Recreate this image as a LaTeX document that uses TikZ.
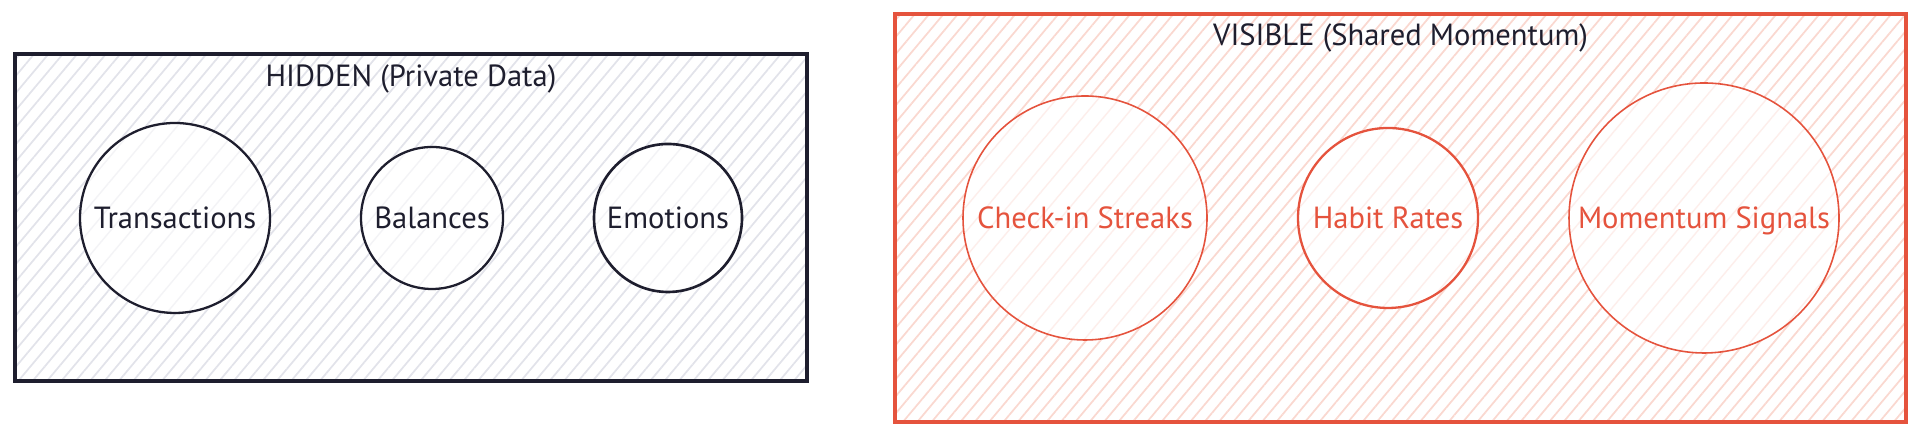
\documentclass[tikz,border=0pt]{standalone}
\usepackage{fontspec}
\setmainfont{PT Sans}
\usepackage{tikz}
\usetikzlibrary{positioning}
\usetikzlibrary{patterns.meta}
\usepackage{xcolor}
\definecolor{inkdark}{HTML}{1E1E2E}
\definecolor{inkred}{HTML}{E5533D}
\definecolor{hatchgray}{HTML}{E2E3EA}
\definecolor{hatchpink}{HTML}{FAD8D0}
\definecolor{faintgray}{HTML}{F3F3F6}
\definecolor{faintpink}{HTML}{FDEEEB}

\begin{document}
\begin{tikzpicture}[
hiddenbox/.style={rectangle, draw=inkdark, line width=1pt, inner sep=0pt, pattern={Lines[angle=50,distance=1.1mm,line width=0.5pt]}, pattern color=hatchgray},
visiblebox/.style={rectangle, draw=inkred, line width=1.05pt, inner sep=0pt, pattern={Lines[angle=50,distance=1.1mm,line width=0.5pt]}, pattern color=hatchpink},
hiddennode/.style={circle, draw=inkdark, line width=0.65pt, inner sep=0pt, text=inkdark, font=\fontsize{8.7}{10.4}\selectfont, text height=6.1pt, text depth=0pt, preaction={fill=white}, pattern={Lines[angle=50,distance=1.6mm,line width=0.4pt]}, pattern color=faintgray},
visiblenode/.style={circle, draw=inkred, line width=0.45pt, inner sep=0pt, text=inkred, font=\fontsize{8.7}{10.4}\selectfont, text height=6.1pt, text depth=0pt, preaction={fill=white}, pattern={Lines[angle=50,distance=1.6mm,line width=0.4pt]}, pattern color=faintpink},
titlenode/.style={inner sep=0pt, text=inkdark, font=\fontsize{8.7}{10.4}\selectfont, text height=6.1pt, text depth=0pt},
]
\useasboundingbox (0,0) rectangle (19.2,4.37);

%Boxes
\node[hiddenbox, minimum width=7.92cm, minimum height=3.27cm]    at (4.11,2.195)   (hidden_box)    [] {};
\node[visiblebox, minimum width=10.11cm, minimum height=4.08cm]  at (14.005,2.19)  (visible_box)   [] {};

%Titles
\node[titlenode]  (hidden_title)   [below=1.1mm of hidden_box.north]   {HIDDEN (Private Data)};
\node[titlenode]  (visible_title)  [below=1.1mm of visible_box.north]  {VISIBLE (Shared Momentum)};

%Hidden circles
\node[hiddennode, minimum size=1.9cm]   at (1.75,2.19)   (hidden_transactions)  [] {Transactions};
\node[hiddennode, minimum size=1.42cm]  at (4.32,2.19)   (hidden_balances)      [] {Balances};
\node[hiddennode, minimum size=1.48cm, line width=0.75pt]  at (6.68,2.19)   (hidden_emotions)      [] {Emotions};

%Visible circles
\node[visiblenode, minimum size=2.44cm]  at (10.85,2.19)  (visible_streaks)   [] {Check-in Streaks};
\node[visiblenode, minimum size=1.80cm, line width=0.65pt]  at (13.88,2.19)  (visible_habits)    [] {Habit Rates};
\node[visiblenode, minimum size=2.70cm]  at (17.04,2.19)  (visible_momentum)  [] {Momentum Signals};

\end{tikzpicture}
\end{document}
